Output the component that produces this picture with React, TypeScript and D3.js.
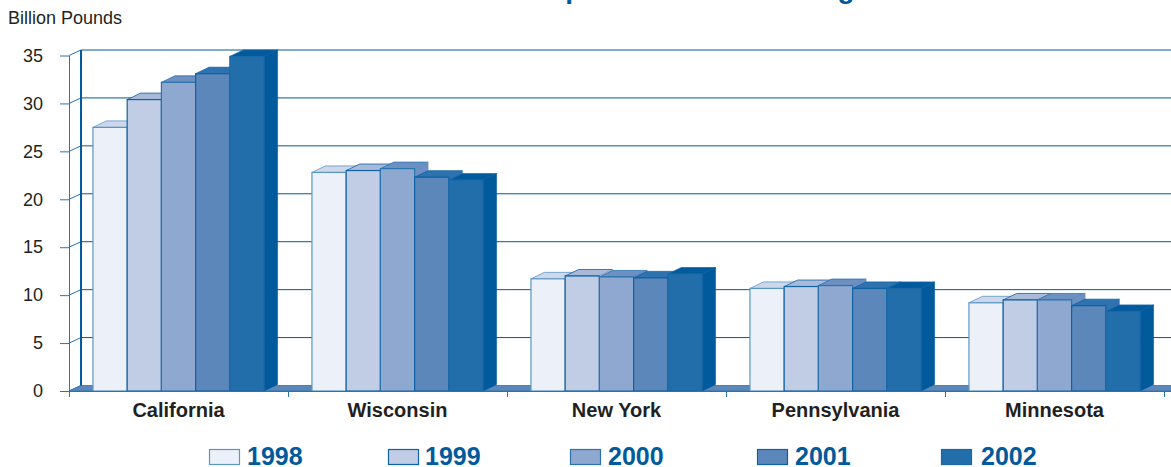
import React, { useEffect, useRef } from "react";
import * as d3 from "d3";

const states = ["California", "Wisconsin", "New York", "Pennsylvania", "Minnesota"];
const years = ["1998", "1999", "2000", "2001", "2002"];

// billion pounds, one list per state, 1998..2002
const california = [27.5, 30.4, 32.2, 33.1, 34.9];
const wisconsin = [22.8, 23.0, 23.2, 22.3, 22.0];
const newYork = [11.7, 12.0, 11.9, 11.8, 12.2];
const pennsylvania = [10.7, 10.9, 11.0, 10.7, 10.7];
const minnesota = [9.2, 9.5, 9.5, 8.9, 8.3];
const stateValues = [california, wisconsin, newYork, pennsylvania, minnesota];

const yTicks = [0, 5, 10, 15, 20, 25, 30, 35];

const frontColors = ["#ecf0f8", "#c0cde5", "#8fa8cf", "#5c87ba", "#226eab"];
const topColors = ["#ced8ea", "#a9bad9", "#6d90c2", "#2f72b0", "#005a9c"];
const sideColors = ["#ced8ea", "#a9bad9", "#6d90c2", "#2f72b0", "#005a9c"];
const strokeColors = ["#5a96c4", "#0f62a3", "#2a74ae", "#0f62a3", "#1a68a8"];

const BLUE = "#005a9c";
const INK = "#231f20";
const FONT = "'Liberation Sans', Arial, sans-serif";

const legendX = [209, 388, 570, 757, 941];
const legendTextX = [247, 425, 608, 795, 981];

// wall depth and bar depth of the fake 3D
const wallDx = 12;
const wallDy = -5.5;
const barDx = 13.5;
const barDy = -6.5;

export default function App() {
    const svgRef = useRef<SVGSVGElement>(null);

    useEffect(() => {
        const svg = d3.select(svgRef.current);
        svg.selectAll("*").remove();

        const x = d3.scaleBand().domain(states).range([69, 1164]);
        const y = d3.scaleLinear().domain([0, 35]).range([391, 55.5]);
        const inner = d3.scaleBand().domain(years)
            .range([0, x.bandwidth()])
            .paddingInner(0)
            .paddingOuter(0.7);

        const right = 1171 + wallDx;

        // title runs off the top of the picture
        svg.append("text")
            .attr("x", 533)
            .attr("y", -2)
            .attr("font-family", FONT)
            .attr("font-weight", "bold")
            .attr("font-size", 28)
            .attr("fill", BLUE)
            .text("Top Five Milk Producing States");

        svg.append("text")
            .attr("x", 8)
            .attr("y", 24)
            .attr("font-family", FONT)
            .attr("font-size", 18)
            .attr("fill", INK)
            .text("Billion Pounds");

        // back wall gridlines
        svg.append("g").selectAll("line")
            .data(yTicks.slice(1))
            .enter()
            .append("line")
            .attr("x1", 69 + wallDx)
            .attr("x2", right)
            .attr("y1", (d) => y(d) + wallDy)
            .attr("y2", (d) => y(d) + wallDy)
            .attr("stroke", BLUE)
            .attr("stroke-width", 1);

        // slanted ties from the front axis to the back wall
        svg.append("g").selectAll("line")
            .data(yTicks)
            .enter()
            .append("line")
            .attr("x1", 69)
            .attr("x2", 69 + wallDx)
            .attr("y1", (d) => y(d))
            .attr("y2", (d) => y(d) + wallDy)
            .attr("stroke", "#2a74ae")
            .attr("stroke-width", 1);

        // floor
        svg.append("path")
            .attr("d", d3.line()([
                [69, y(0)],
                [69 + wallDx, y(0) + wallDy],
                [right, y(0) + wallDy],
                [right - wallDx, y(0)],
            ]) + "Z")
            .attr("fill", "#5c87ba")
            .attr("stroke", "#2a74ae")
            .attr("stroke-width", 0.8);

        // back wall axis
        svg.append("line")
            .attr("x1", 69 + wallDx)
            .attr("x2", 69 + wallDx)
            .attr("y1", y(35) + wallDy)
            .attr("y2", y(0) + wallDy)
            .attr("stroke", BLUE)
            .attr("stroke-width", 2);

        // bars, left to right so each front hides the previous side face
        states.forEach((state, si) => {
            const g = svg.append("g")
                .attr("transform", `translate(${x(state)},0)`);
            const bars = g.selectAll("g")
                .data(stateValues[si])
                .enter()
                .append("g");
            const w = inner.bandwidth();

            bars.append("path")
                .attr("d", (d, i) => {
                    const x0 = inner(years[i]) as number;
                    return d3.line()([
                        [x0, y(d)],
                        [x0 + barDx, y(d) + barDy],
                        [x0 + w + barDx, y(d) + barDy],
                        [x0 + w, y(d)],
                    ]) + "Z";
                })
                .attr("fill", (d, i) => topColors[i])
                .attr("stroke", (d, i) => strokeColors[i])
                .attr("stroke-width", 0.8);

            bars.append("path")
                .attr("d", (d, i) => {
                    const x1 = (inner(years[i]) as number) + w;
                    return d3.line()([
                        [x1, y(d)],
                        [x1 + barDx, y(d) + barDy],
                        [x1 + barDx, y(0) + barDy],
                        [x1, y(0)],
                    ]) + "Z";
                })
                .attr("fill", (d, i) => sideColors[i])
                .attr("stroke", (d, i) => sideColors[i])
                .attr("stroke-width", 0.6);

            bars.append("rect")
                .attr("x", (d, i) => inner(years[i]) as number)
                .attr("y", (d) => y(d))
                .attr("width", w)
                .attr("height", (d) => y(0) - y(d))
                .attr("fill", (d, i) => frontColors[i])
                .attr("stroke", (d, i) => strokeColors[i])
                .attr("stroke-width", 1.2);
        });

        // front vertical axis with its tick labels
        const yAxis = svg.append("g")
            .attr("transform", "translate(69,0)")
            .call(d3.axisLeft(y).tickValues(yTicks).tickSize(9).tickSizeOuter(0).tickFormat(d3.format("d")));
        yAxis.select(".domain")
            .attr("stroke", "#2a74ae")
            .attr("d", `M0.5,${y(35) + 0.5}V${y(0) + 6}`);
        yAxis.selectAll(".tick line").attr("stroke", "#2a74ae");
        yAxis.selectAll(".tick text")
            .attr("x", -26)
            .attr("font-family", FONT)
            .attr("font-size", 18)
            .attr("fill", INK);

        // category axis: ticks sit on the band edges, labels in the middle
        const xAxis = svg.append("g")
            .attr("transform", `translate(0,${y(0)})`)
            .call(d3.axisBottom(x).tickSize(0));
        xAxis.select(".domain")
            .attr("stroke", "#2a74ae")
            .attr("d", "M69,0.5H1171");
        xAxis.selectAll(".tick text")
            .attr("y", 26)
            .attr("dy", 0)
            .attr("font-family", FONT)
            .attr("font-weight", "bold")
            .attr("font-size", 20)
            .attr("fill", INK);
        xAxis.selectAll("line.edge")
            .data(states.map((s) => x(s) as number).concat((x(states[4]) as number) + x.bandwidth()))
            .enter()
            .append("line")
            .attr("class", "edge")
            .attr("x1", (d) => d + 0.5)
            .attr("x2", (d) => d + 0.5)
            .attr("y1", 0)
            .attr("y2", 6)
            .attr("stroke", "#2a74ae");

        // legend
        const legend = svg.append("g");
        legend.selectAll("rect")
            .data(years)
            .enter()
            .append("rect")
            .attr("x", (d, i) => legendX[i] + 0.5)
            .attr("y", 449.5)
            .attr("width", 30)
            .attr("height", 15)
            .attr("fill", (d, i) => frontColors[i])
            .attr("stroke", (d, i) => strokeColors[i])
            .attr("stroke-width", 1.2);
        legend.selectAll("text")
            .data(years)
            .enter()
            .append("text")
            .attr("x", (d, i) => legendTextX[i])
            .attr("y", 465)
            .attr("font-family", FONT)
            .attr("font-weight", "bold")
            .attr("font-size", 25)
            .attr("fill", BLUE)
            .text((d) => d);
    }, []);

    return (
        <svg
            ref={svgRef}
            width={1171}
            height={467}
            style={{ position: "absolute", top: 0, left: 0, background: "#fff" }}
        />
    );
}
